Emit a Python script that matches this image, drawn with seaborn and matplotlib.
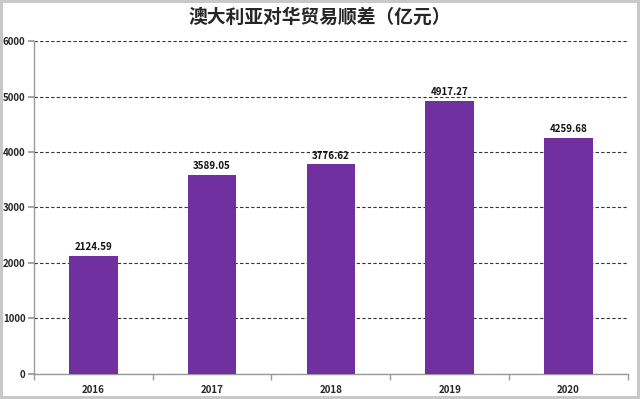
import matplotlib
matplotlib.use("Agg")
import matplotlib.pyplot as plt
import seaborn as sns
import pandas as pd

years = ["2016", "2017", "2018", "2019", "2020"]
surplus = [2124.59, 3589.05, 3776.62, 4917.27, 4259.68]
title = "澳大利亚对华贸易顺差（亿元）"

sns.set_theme(style="white")
plt.rcParams['font.family'] = ['Noto Sans CJK SC', 'DejaVu Sans']

df = pd.DataFrame({"year": years, "value": surplus})

fig = plt.figure(figsize=(6.4, 3.99), dpi=100)
fig.patch.set_edgecolor("#c8c8c8")
fig.patch.set_linewidth(4)
ax = fig.add_axes([0.053, 0.063, 0.928, 0.834])

sns.barplot(data=df, x="year", y="value", color="#7030A0", width=0.41,
            saturation=1, linewidth=0, ax=ax, zorder=3)

ax.set_ylim(0, 6000)
ax.set_yticks(range(0, 6001, 1000))
ax.set_xlim(-0.5, len(years) - 0.5)
ax.yaxis.grid(True, linestyle=(0, (3, 2)), color="#333333", linewidth=0.8, zorder=0)
ax.set_xlabel("")
ax.set_ylabel("")

for s in ["top", "right"]:
    ax.spines[s].set_visible(False)
for s in ["left", "bottom"]:
    ax.spines[s].set_color("#999999")
    ax.spines[s].set_linewidth(1)

ax.tick_params(axis="y", labelsize=7, length=4, color="#999999", left=True, pad=2)
ax.tick_params(axis="x", labelsize=7, length=0, pad=8)
for lbl in ax.get_xticklabels() + ax.get_yticklabels():
    lbl.set_fontweight("bold")

# category boundary ticks on the x axis
ax.set_xticks([i - 0.5 for i in range(len(years) + 1)], minor=True)
ax.tick_params(axis="x", which="minor", length=4, color="#999999", bottom=True)

for i, v in enumerate(surplus):
    ax.text(i, v + 70, f"{v:.2f}", ha="center", va="bottom", fontsize=7,
            fontweight="bold", color="#111111")

fig.suptitle(title, y=0.98, fontsize=13.5, fontweight="bold")

fig.savefig("out.png", dpi=100)
